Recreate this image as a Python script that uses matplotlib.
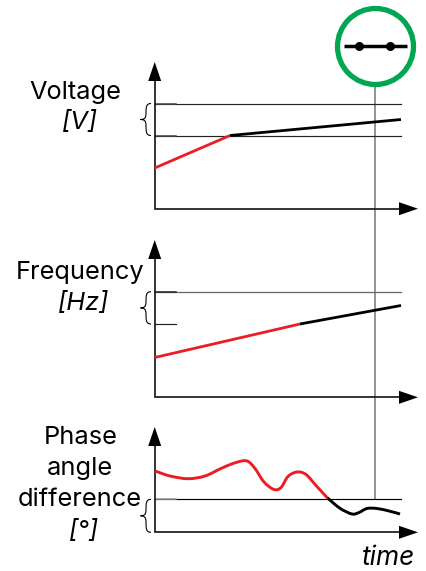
import matplotlib
matplotlib.use("Agg")
import matplotlib.pyplot as plt
from matplotlib.path import Path
from matplotlib.patches import PathPatch, Circle

plt.rcParams["font.family"] = ["Inter", "DejaVu Sans"]

RED = "#ed1c24"
GREEN = "#00a651"
GREY = "#808080"

axis_x = 154.7
axis_end = 399
line_end = 401

voltage_red_x = [154.7, 230]
voltage_red_y = [168, 135.5]
voltage_black_x = [230, 401]
voltage_black_y = [135.5, 119.5]
voltage_limits = [103.5, 135.5]

freq_red_x = [154.7, 300]
freq_red_y = [357.5, 324]
freq_black_x = [300, 401]
freq_black_y = [324, 305.5]
freq_limits = [291.7, 324]

phase_red_x = [155, 170, 188, 205, 222, 236, 247, 255, 264, 274, 281, 288, 297, 306, 316, 327.5]
phase_red_y = [471, 476, 478.7, 476, 468, 462.5, 461, 468.5, 482, 489.5, 487.5, 476.5, 472, 474.5, 485.5, 498]
phase_black_x = [327.5, 340, 352, 359, 367, 377, 389, 400]
phase_black_y = [498, 508.3, 514, 512.5, 508.5, 508.5, 511, 514]
phase_limit = 499.3

switch_x = 375.5
switch_contacts = [359, 390.5]

fig = plt.figure(figsize=(4.27, 5.71), dpi=100)
ax = fig.add_axes([0, 0, 1, 1])
ax.set_xlim(0, 427)
ax.set_ylim(571, 0)
ax.axis("off")


def draw_axes(top, bottom):
    # axis lines plus the two filled arrow heads
    ax.plot([axis_x, axis_x, axis_end], [top + 19, bottom, bottom], color="#1a1a1a", lw=1.25,
            solid_joinstyle="miter", zorder=3)
    ax.fill([axis_x - 6.5, axis_x, axis_x + 6.5], [top + 19, top, top + 19], color="black", lw=0, zorder=3)
    ax.fill([axis_end, axis_end + 19, axis_end], [bottom - 6.5, bottom, bottom + 6.5], color="black", lw=0,
            zorder=3)


def draw_brace(top, bottom):
    mid = (top + bottom) / 2
    verts = [(151, top), (146, top), (146, top + 4), (146, mid - 6), (146, mid - 1), (144, mid), (140.5, mid),
             (144, mid), (146, mid + 1), (146, mid + 6), (146, bottom - 4), (146, bottom), (151, bottom)]
    codes = [Path.MOVETO] + [Path.CURVE4] * 12
    ax.add_patch(PathPatch(Path(verts, codes), fc="none", ec="black", lw=0.8))


def draw_smooth(xs, ys, color):
    # Catmull-Rom through the read points, as bezier segments
    pts = list(zip(xs, ys))
    verts = [pts[0]]
    for i in range(len(pts) - 1):
        p0 = pts[max(i - 1, 0)]
        p1 = pts[i]
        p2 = pts[i + 1]
        p3 = pts[min(i + 2, len(pts) - 1)]
        verts.append((p1[0] + (p2[0] - p0[0]) / 6, p1[1] + (p2[1] - p0[1]) / 6))
        verts.append((p2[0] - (p3[0] - p1[0]) / 6, p2[1] - (p3[1] - p1[1]) / 6))
        verts.append(p2)
    codes = [Path.MOVETO] + [Path.CURVE4] * (len(verts) - 1)
    ax.add_patch(PathPatch(Path(verts, codes), fc="none", ec=color, lw=2.1, capstyle="butt", zorder=4,
                           snap=False))


draw_axes(62, 208.7)
draw_axes(240, 397.3)
draw_axes(427, 532.3)

# limit lines
for y in voltage_limits:
    ax.plot([axis_x, line_end], [y, y], color="#222222", lw=0.85)
    ax.plot([axis_x, 176], [y, y], color="#444444", lw=1.1)
ax.plot([axis_x, line_end], [freq_limits[0], freq_limits[0]], color="#666666", lw=0.9)
ax.plot([axis_x, 176], [freq_limits[0], freq_limits[0]], color="#222222", lw=1.1)
ax.plot([axis_x, 176], [freq_limits[1], freq_limits[1]], color="#222222", lw=0.85)
ax.plot([axis_x, line_end], [phase_limit, phase_limit], color="black", lw=0.85)
ax.plot([axis_x, 176], [phase_limit, phase_limit], color="#999999", lw=1.1, zorder=2.5)

draw_brace(*voltage_limits)
draw_brace(*freq_limits)
draw_brace(phase_limit, 532.3)

# closing instant
ax.plot([switch_x, switch_x], [86, 499], color=GREY, lw=1.2, zorder=1)

for x, y in [(voltage_red_x, voltage_red_y), (freq_red_x, freq_red_y)]:
    ax.plot(x, y, color=RED, lw=2.0, solid_capstyle="butt", zorder=4)
for x, y in [(voltage_black_x, voltage_black_y), (freq_black_x, freq_black_y)]:
    ax.plot(x, y, color="black", lw=2.0, solid_capstyle="butt", zorder=4)
draw_smooth(phase_red_x, phase_red_y, RED)
draw_smooth(phase_black_x, phase_black_y, "black")

# switch symbol
ax.add_patch(Circle((switch_x, 46.5), 38, fc="white", ec=GREEN, lw=3.8, zorder=5))
ax.plot([344, 407], [46.3, 46.3], color="black", lw=2.5, solid_capstyle="butt", zorder=6)
ax.plot(switch_contacts, [46.3, 46.3], "o", color="black", ms=6.5, mew=0, zorder=6)

# labels
size = 18.3
ax.text(75, 99, "Voltage", fontsize=size, ha="center", va="baseline")
ax.text(79.5, 129, "[V]", fontsize=size, style="italic", ha="center", va="baseline")
ax.text(80, 279, "Frequency", fontsize=size, ha="center", va="baseline")
ax.text(83.5, 310, "[Hz]", fontsize=size, style="italic", ha="center", va="baseline")
ax.text(80.5, 444, "Phase", fontsize=size, ha="center", va="baseline")
ax.text(80, 475, "angle", fontsize=size, ha="center", va="baseline")
ax.text(79.5, 506, "difference", fontsize=size, ha="center", va="baseline")
ax.text(84, 538, "[°]", fontsize=size, style="italic", ha="center", va="baseline")
ax.text(388.5, 565, "time", fontsize=19, style="italic", ha="center", va="baseline")

fig.savefig("out.png", dpi=100)
